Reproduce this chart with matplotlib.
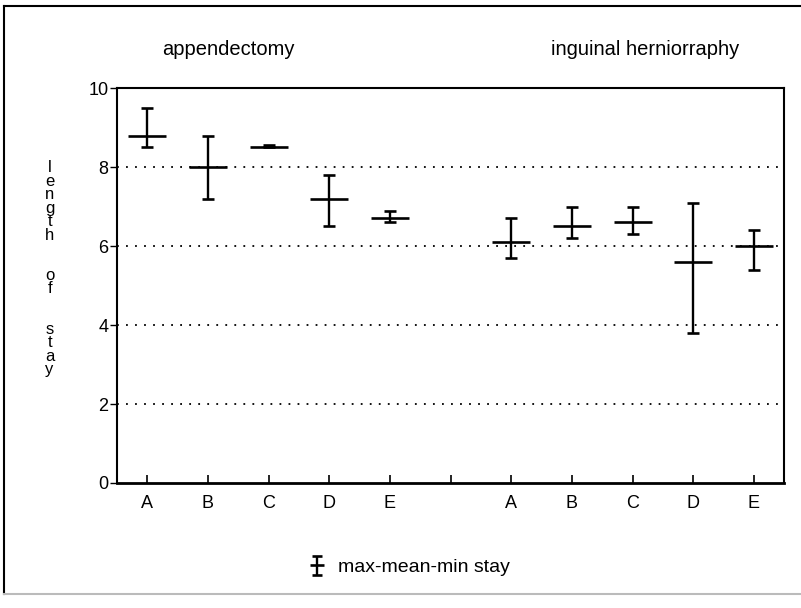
import matplotlib.pyplot as plt
from matplotlib.lines import Line2D

# data (days)
hospitals = ['A', 'B', 'C', 'D', 'E']
groups = ['appendectomy', 'inguinal herniorraphy']
app_max = [9.5, 8.8, 8.55, 7.8, 6.9]
app_mean = [8.8, 8.0, 8.5, 7.2, 6.7]
app_min = [8.5, 7.2, 8.5, 6.5, 6.6]
her_max = [6.7, 7.0, 7.0, 7.1, 6.4]
her_mean = [6.1, 6.5, 6.6, 5.6, 6.0]
her_min = [5.7, 6.2, 6.3, 3.8, 5.4]
y_ticks = [0, 2, 4, 6, 8, 10]

plt.rcParams['font.family'] = ['Liberation Sans Narrow', 'Liberation Sans', 'DejaVu Sans']

fig = plt.figure(figsize=(8.01, 6.08), dpi=100)
ax = fig.add_axes([0.146, 0.2056, 0.833, 0.6494])

x_app = list(range(1, 6))
x_her = list(range(7, 12))


def draw(a, xs, mx, mn, lo, ms=27, cs=4.5):
    yerr = [[m - l for m, l in zip(mn, lo)], [h - m for h, m in zip(mx, mn)]]
    return a.errorbar(xs, mn, yerr=yerr, fmt='_', color='black', markersize=ms,
                      markeredgewidth=1.9, elinewidth=1.7, capsize=cs, capthick=1.7,
                      zorder=3)


draw(ax, x_app, app_max, app_mean, app_min)
draw(ax, x_her, her_max, her_mean, her_min)

for y in y_ticks[1:-1]:
    ax.axhline(y, color='black', linestyle=(0, (1, 4)), linewidth=1.3, zorder=1)

ax.set_xlim(0.5, 11.5)
ax.set_ylim(0, 10)
ax.set_yticks(y_ticks)
ax.set_xticks(range(1, 12))
ax.set_xticklabels(hospitals + [''] + hospitals)
ax.tick_params(axis='x', direction='in', length=6, width=1.2, pad=9, labelsize=13)
ax.tick_params(axis='y', direction='out', length=5, width=1.0, pad=1, labelsize=13)
for s in ax.spines.values():
    s.set_linewidth(1.5)
ax.spines['bottom'].set_linewidth(2)

# stacked axis label
label_lines = list('length') + ['', ''] + list('of') + ['', ''] + list('stay')
fig.text(0.062, 0.558, '\n'.join(label_lines), ha='center', va='center',
         fontsize=12, linespacing=0.87)

fig.text(0.285, 0.918, groups[0], ha='center', va='center', fontsize=14.5)
fig.text(0.806, 0.918, groups[1], ha='center', va='center', fontsize=14.5)

# legend key drawn on a hidden axes so the handle has caps
kax = fig.add_axes([0, 0, 0.01, 0.01])
kax.set_visible(False)
proxy = draw(kax, [0], [1], [0], [-1], ms=10, cs=3.5)
fig.legend([proxy], ['max-mean-min stay'], loc='center', bbox_to_anchor=(0.51, 0.067),
           frameon=False, fontsize=14, handlelength=1.0, handletextpad=0.6)

# outer frame
fig.add_artist(Line2D([0.005, 0.005], [0.023, 0.99], color='black', linewidth=1.5))
fig.add_artist(Line2D([0.005, 1.0], [0.99, 0.99], color='black', linewidth=1.5))
fig.add_artist(Line2D([0.005, 1.0], [0.023, 0.023], color='#bbbbbb', linewidth=1.5))

fig.savefig('out.png', dpi=100)
